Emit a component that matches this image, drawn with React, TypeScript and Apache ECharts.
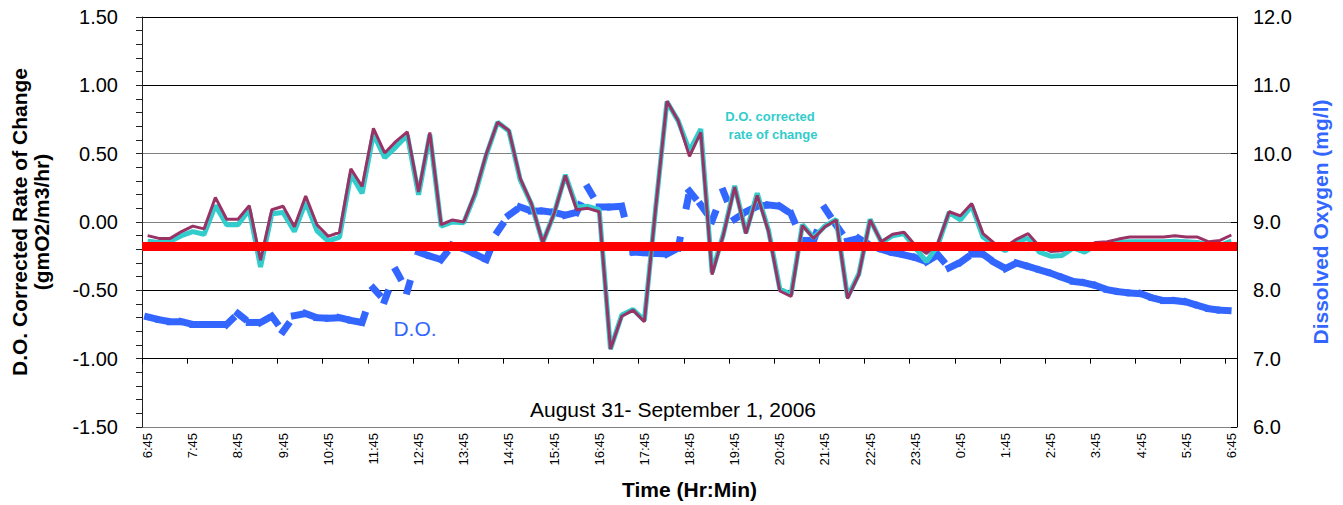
import React, { useEffect, useRef } from "react";
import * as echarts from "echarts";

const CATEGORIES = [
  "6:45", "7:00", "7:15", "7:30", "7:45", "8:00", "8:15", "8:30", "8:45", "9:00", "9:15", "9:30", "9:45",
  "10:00", "10:15", "10:30", "10:45", "11:00", "11:15", "11:30", "11:45", "12:00", "12:15", "12:30", "12:45",
  "13:00", "13:15", "13:30", "13:45", "14:00", "14:15", "14:30", "14:45", "15:00", "15:15", "15:30", "15:45",
  "16:00", "16:15", "16:30", "16:45", "17:00", "17:15", "17:30", "17:45", "18:00", "18:15", "18:30", "18:45",
  "19:00", "19:15", "19:30", "19:45", "20:00", "20:15", "20:30", "20:45", "21:00", "21:15", "21:30", "21:45",
  "22:00", "22:15", "22:30", "22:45", "23:00", "23:15", "23:30", "23:45", "0:00", "0:15", "0:30", "0:45",
  "1:00", "1:15", "1:30", "1:45", "2:00", "2:15", "2:30", "2:45", "3:00", "3:15", "3:30", "3:45",
  "4:00", "4:15", "4:30", "4:45", "5:00", "5:15", "5:30", "5:45", "6:00", "6:15", "6:30", "6:45",
];

// D.O. corrected rate of change (gmO2/m3/hr) - maroon line
const RATE_MAROON = [
  -0.10, -0.12, -0.12, -0.07, -0.03, -0.05, 0.18, 0.02, 0.02, 0.12,
  -0.28, 0.09, 0.115, -0.035, 0.19, -0.02, -0.105, -0.075, 0.39, 0.26,
  0.685, 0.505, 0.59, 0.66, 0.22, 0.655, -0.02, 0.015, 0.0, 0.21,
  0.50, 0.73, 0.67, 0.32, 0.135, -0.15, 0.06, 0.34, 0.09, 0.10,
  0.075, -0.93, -0.69, -0.645, -0.73, 0.10, 0.885, 0.74, 0.48, 0.655,
  -0.385, -0.095, 0.255, -0.085, 0.195, -0.07, -0.505, -0.545, -0.025, -0.12,
  -0.035, 0.015, -0.56, -0.385, 0.015, -0.145, -0.09, -0.075, -0.17, -0.23,
  -0.155, 0.075, 0.045, 0.135, -0.085, -0.155, -0.18, -0.125, -0.085, -0.18,
  -0.215, -0.21, -0.17, -0.18, -0.15, -0.145, -0.125, -0.11, -0.11, -0.11,
  -0.11, -0.10, -0.11, -0.11, -0.145, -0.135, -0.095,
];

// D.O. corrected rate of change - cyan line
const RATE_CYAN = [
  -0.14, -0.15, -0.14, -0.10, -0.07, -0.09, 0.12, -0.02, -0.02, 0.09,
  -0.33, 0.06, 0.07, -0.07, 0.145, -0.065, -0.14, -0.11, 0.35, 0.21,
  0.645, 0.47, 0.55, 0.635, 0.20, 0.64, -0.03, 0.0, -0.005, 0.20,
  0.49, 0.73, 0.665, 0.31, 0.13, -0.15, 0.06, 0.345, 0.11, 0.115,
  0.09, -0.93, -0.68, -0.64, -0.72, 0.10, 0.88, 0.74, 0.52, 0.68,
  -0.37, -0.09, 0.265, -0.08, 0.21, -0.06, -0.49, -0.53, -0.02, -0.115,
  -0.03, 0.02, -0.55, -0.38, 0.02, -0.15, -0.10, -0.085, -0.19, -0.29,
  -0.17, 0.07, 0.015, 0.12, -0.11, -0.17, -0.21, -0.14, -0.12, -0.22,
  -0.25, -0.245, -0.19, -0.22, -0.17, -0.16, -0.15, -0.145, -0.145, -0.145,
  -0.145, -0.14, -0.145, -0.15, -0.17, -0.17, -0.14,
];

// Dissolved oxygen (mg/l)
const DO_MGL = [
  7.61, 7.57, 7.54, 7.54, 7.50, 7.50, 7.50, 7.50, 7.66, 7.53,
  7.53, 7.62, 7.40, 7.63, 7.66, 7.60, 7.59, 7.60, 7.56, 7.53,
  8.03, 7.85, 8.29, 7.99, 8.56, 8.50, 8.45, 8.66, 8.61, 8.53,
  8.45, 8.86, 9.10, 9.22, 9.16, 9.16, 9.14, 9.10, 9.14, 9.50,
  9.22, 9.22, 9.23, 8.56, 8.55, 8.54, 8.53, 8.62, 9.45, 9.25,
  9.02, 9.45, 9.04, 9.15, 9.23, 9.25, 9.23, 9.12, 8.73, 8.73,
  9.20, 8.95, 8.72, 8.76, 8.66, 8.60, 8.55, 8.52, 8.48, 8.42,
  8.52, 8.33, 8.41, 8.53, 8.53, 8.41, 8.32, 8.40, 8.35, 8.30,
  8.25, 8.19, 8.13, 8.11, 8.07, 8.01, 7.98, 7.96, 7.95, 7.89,
  7.85, 7.85, 7.83, 7.78, 7.73, 7.71, 7.70,
];

const RED_LEVEL = -0.18;

const FONT = "'Liberation Sans', Arial, sans-serif";

export default function App() {
  const ref = useRef<HTMLDivElement>(null);

  useEffect(() => {
    if (!ref.current) return;
    const chart = echarts.init(ref.current, undefined, { renderer: "svg" });
    const gray = "#808080";
    const black = "#000000";

    const option: any = {
      animation: false,
      backgroundColor: "#ffffff",
      textStyle: { fontFamily: FONT },
      grid: { left: 142, right: 106, top: 17, bottom: 75 },
      xAxis: [
        {
          type: "category",
          data: CATEGORIES,
          boundaryGap: true,
          position: "bottom",
          axisLine: { show: false },
          axisTick: { show: false },
          axisLabel: { interval: 3, rotate: 90, fontSize: 13, margin: 6, color: "#000", fontFamily: FONT },
          splitLine: { show: false },
          name: "Time (Hr:Min)",
          nameLocation: "middle",
          nameGap: 52,
          nameTextStyle: { fontSize: 21, fontWeight: "bold", color: "#000", fontFamily: FONT },
        },
        {
          type: "category",
          data: CATEGORIES,
          boundaryGap: true,
          position: "bottom",
          axisLine: { show: true, onZero: true, onZeroAxisIndex: 2, lineStyle: { color: black, width: 1 } },
          axisTick: { show: true, interval: 3, length: 5, lineStyle: { color: black } },
          axisLabel: { show: false },
          splitLine: { show: false },
        },
      ],
      yAxis: [
        {
          type: "value",
          position: "left",
          min: -1.5,
          max: 1.5,
          interval: 0.5,
          axisLine: { show: true, lineStyle: { color: "#222", width: 1 } },
          axisTick: { show: true, inside: false, length: 6, lineStyle: { color: "#222" } },
          minorTick: { show: true, splitNumber: 5, length: 6, lineStyle: { color: "#222" } },
          axisLabel: {
            fontSize: 20,
            margin: 24,
            color: "#000",
            fontFamily: FONT,
            formatter: (v: number) => v.toFixed(2),
          },
          splitLine: {
            show: true,
            lineStyle: { color: [gray, black, black, gray, gray, black, black], width: 1 },
          },
          name: "D.O. Corrected Rate of Change\n(gmO2/m3/hr)",
          nameLocation: "middle",
          nameGap: 90,
          nameRotate: 90,
          nameTextStyle: { fontSize: 21, fontWeight: "bold", color: "#000", lineHeight: 22, fontFamily: FONT },
        },
        {
          type: "value",
          position: "right",
          min: 6,
          max: 12,
          interval: 1,
          axisLine: { show: true, lineStyle: { color: black, width: 1 } },
          axisTick: { show: true, inside: true, length: 6, lineStyle: { color: black } },
          axisLabel: {
            fontSize: 20,
            margin: 16,
            color: "#000",
            fontFamily: FONT,
            formatter: (v: number) => v.toFixed(1),
          },
          splitLine: { show: false },
          name: "Dissolved Oxygen (mg/l)",
          nameLocation: "middle",
          nameGap: 73,
          nameRotate: 90,
          nameTextStyle: { fontSize: 21, fontWeight: "bold", color: "#3366FF", fontFamily: FONT },
        },
        {
          type: "value",
          show: false,
          min: -0.5,
          max: 2.5,
          interval: 0.5,
          splitLine: { show: false },
        },
      ],
      series: [
        {
          name: "D.O.",
          type: "custom",
          xAxisIndex: 0,
          yAxisIndex: 1,
          z: 2,
          data: DO_MGL.map((v, i) => [i, v]),
          encode: { x: 0, y: 1 },
          renderItem: (params: any, api: any) => {
            const i = api.value(0);
            if (i >= DO_MGL.length - 1) return null;
            const p1 = api.coord([i, DO_MGL[i]]);
            const p2 = api.coord([i + 1, DO_MGL[i + 1]]);
            return {
              type: "line",
              shape: { x1: p1[0], y1: p1[1], x2: p2[0], y2: p2[1] },
              style: { stroke: "#3366FF", lineWidth: 7, lineDash: [8, 35], lineCap: "square" },
            };
          },
        },
        {
          name: "rate cyan",
          type: "line",
          xAxisIndex: 0,
          yAxisIndex: 0,
          z: 3,
          data: RATE_CYAN,
          symbol: "none",
          lineStyle: { color: "#33CCCC", width: 5 },
        },
        {
          name: "rate maroon",
          type: "line",
          xAxisIndex: 0,
          yAxisIndex: 0,
          z: 4,
          data: RATE_MAROON,
          symbol: "none",
          lineStyle: { color: "#993366", width: 3 },
          markLine: {
            silent: true,
            symbol: ["none", "none"],
            label: { show: false },
            lineStyle: { color: "#FF0000", width: 9, type: "solid" },
            data: [{ yAxis: RED_LEVEL }],
          },
        },
      ],
      graphic: [
        {
          type: "text",
          x: 415,
          y: 328,
          style: { text: "D.O.", fill: "#3366FF", font: `21px ${FONT}`, textAlign: "center", textVerticalAlign: "middle" },
        },
        {
          type: "text",
          x: 770,
          y: 116,
          style: { text: "D.O. corrected", fill: "#33CCCC", font: `bold 13px ${FONT}`, textAlign: "center", textVerticalAlign: "middle" },
        },
        {
          type: "text",
          x: 773,
          y: 134,
          style: { text: "rate of change", fill: "#33CCCC", font: `bold 13px ${FONT}`, textAlign: "center", textVerticalAlign: "middle" },
        },
        {
          type: "text",
          x: 673,
          y: 409,
          style: { text: "August 31- September 1, 2006", fill: "#000", font: `21px ${FONT}`, textAlign: "center", textVerticalAlign: "middle" },
        },
      ],
    };

    chart.setOption(option);
    return () => chart.dispose();
  }, []);

  return (
    <div
      ref={ref}
      style={{ position: "fixed", left: 0, top: 0, width: 1343, height: 505, background: "#fff" }}
    />
  );
}
